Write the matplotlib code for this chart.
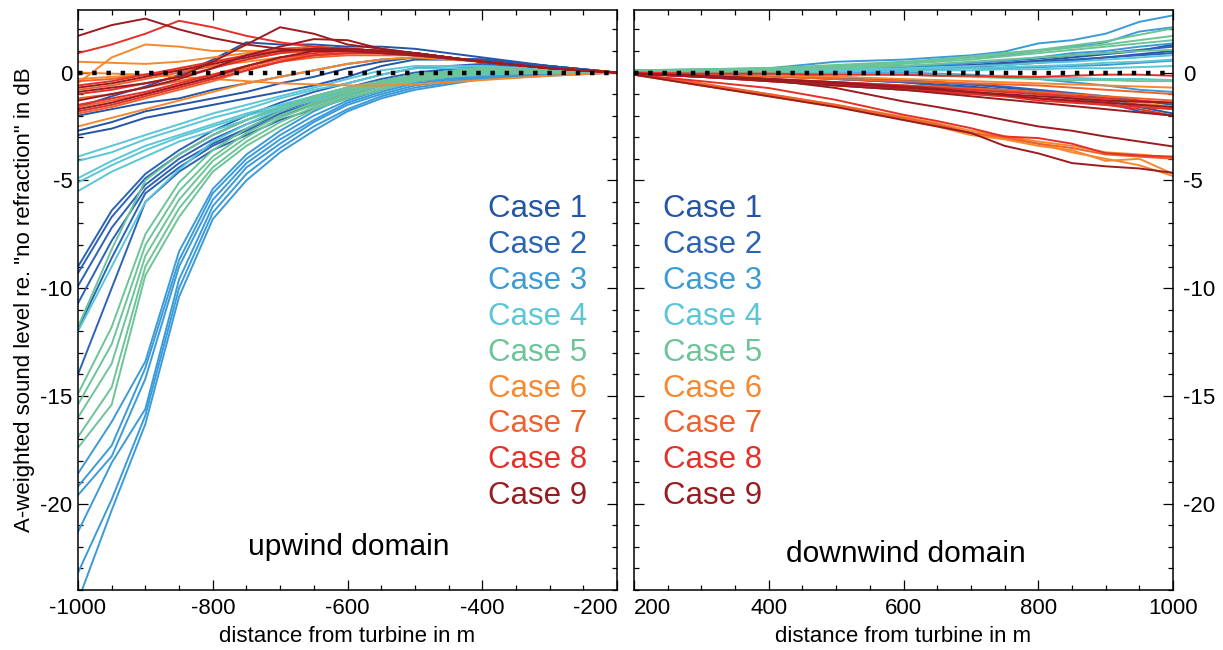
import matplotlib
matplotlib.use("Agg")
import matplotlib.pyplot as plt
from matplotlib.ticker import MultipleLocator

plt.rcParams['font.family'] = ['Liberation Sans', 'DejaVu Sans']
plt.rcParams['axes.unicode_minus'] = False

# distances (m)
x_up = [-1000, -950, -900, -850, -800, -750, -700, -650, -600, -550, -500, -400, -300, -200]
x_down = [200, 300, 400, 500, 600, 650, 700, 750, 800, 850, 900, 950, 1000]
up_ticks = [-1000, -800, -600, -400, -200]
down_ticks = [200, 400, 600, 800, 1000]

case_names = ["Case 1", "Case 2", "Case 3", "Case 4", "Case 5",
              "Case 6", "Case 7", "Case 8", "Case 9"]
case_colors = ["#2455a6", "#2b63b5", "#3b9bd9", "#5ac6d6", "#6dc497",
               "#f6892f", "#f0612c", "#e5302a", "#9b1c20"]

# upwind domain, level re. no refraction (dB)
up_case1 = [
    [-1.6, -1.1, -0.65, -0.1, 0.6, 1.4, 1.3, 1.3, 1.2, 1.2, 1.1, 0.7, 0.3, 0.0],
    [-2.9, -2.6, -2.1, -1.8, -1.5, -1.2, -0.9, -0.6, -0.2, 0.3, 0.6, 0.6, 0.3, 0.0],
    [-2.7, -2.3, -1.8, -1.5, -1.2, -0.9, -0.5, -0.2, 0.2, 0.5, 0.7, 0.6, 0.3, 0.0],
    [-2.0, -1.7, -1.4, -1.2, -0.8, -0.5, -0.2, 0.1, 0.4, 0.6, 0.7, 0.6, 0.3, 0.0],
]
up_case2 = [
    [-9.0, -6.4, -4.7, -3.6, -2.7, -2.0, -1.4, -0.9, -0.5, -0.1, 0.2, 0.4, 0.2, 0.0],
    [-9.3, -6.7, -4.9, -3.8, -2.9, -2.2, -1.6, -1.1, -0.7, -0.3, 0.0, 0.3, 0.2, 0.0],
    [-9.9, -7.2, -5.2, -4.0, -3.1, -2.4, -1.8, -1.3, -0.8, -0.4, -0.1, 0.2, 0.1, 0.0],
    [-10.7, -7.8, -5.4, -4.2, -3.3, -2.6, -1.9, -1.4, -0.9, -0.5, -0.2, 0.1, 0.05, 0.0],
    [-11.9, -8.6, -5.6, -4.4, -3.4, -2.7, -2.0, -1.5, -1.0, -0.6, -0.3, 0.0, 0.0, 0.0],
    [-14.0, -10.0, -6.0, -4.6, -3.6, -2.9, -2.2, -1.7, -1.2, -0.8, -0.4, -0.1, 0.0, 0.0],
]
up_case3 = [
    [-18.6, -16.2, -13.4, -8.3, -5.4, -3.8, -2.7, -1.8, -1.1, -0.6, -0.3, 0.0, 0.0, 0.0],
    [-19.2, -17.3, -13.7, -8.7, -5.6, -4.0, -2.9, -2.0, -1.3, -0.8, -0.4, -0.1, 0.0, 0.0],
    [-19.6, -17.8, -14.2, -9.0, -5.9, -4.2, -3.1, -2.2, -1.4, -0.9, -0.5, -0.15, -0.05, 0.0],
    [-21.3, -18.1, -15.6, -9.6, -6.2, -4.4, -3.3, -2.3, -1.5, -1.0, -0.6, -0.2, -0.1, 0.0],
    [-23.2, -19.8, -15.9, -10.0, -6.5, -4.7, -3.5, -2.5, -1.7, -1.1, -0.7, -0.25, -0.1, 0.0],
    [-24.5, -20.3, -16.3, -10.4, -6.8, -5.0, -3.7, -2.7, -1.8, -1.2, -0.8, -0.3, -0.15, 0.0],
]
up_case4 = [
    [-3.9, -3.4, -2.9, -2.4, -1.9, -1.5, -1.1, -0.7, -0.3, 0.1, 0.3, 0.3, 0.15, 0.0],
    [-4.1, -3.7, -3.1, -2.6, -2.1, -1.7, -1.2, -0.8, -0.5, -0.1, 0.2, 0.2, 0.1, 0.0],
    [-4.9, -4.1, -3.4, -2.9, -2.4, -1.9, -1.5, -1.1, -0.7, -0.4, -0.1, 0.0, 0.0, 0.0],
    [-5.1, -4.3, -3.6, -3.0, -2.5, -2.0, -1.6, -1.2, -0.8, -0.5, -0.2, -0.05, 0.0, 0.0],
    [-5.5, -4.6, -3.9, -3.2, -2.7, -2.2, -1.7, -1.3, -0.9, -0.6, -0.3, -0.1, 0.0, 0.0],
    [-12.0, -9.0, -6.0, -4.5, -3.2, -2.4, -1.7, -1.2, -0.8, -0.5, -0.2, 0.0, 0.0, 0.0],
]
up_case5 = [
    [-11.8, -8.2, -5.0, -3.8, -2.9, -2.2, -1.6, -1.1, -0.7, -0.4, -0.1, 0.2, 0.1, 0.0],
    [-14.9, -11.8, -7.5, -5.1, -3.6, -2.6, -1.8, -1.2, -0.8, -0.4, -0.1, 0.2, 0.1, 0.0],
    [-15.4, -12.6, -8.0, -5.5, -3.9, -2.8, -2.0, -1.4, -0.9, -0.5, -0.2, 0.15, 0.1, 0.0],
    [-16.0, -13.5, -8.5, -5.9, -4.1, -3.0, -2.1, -1.5, -1.0, -0.6, -0.3, 0.1, 0.05, 0.0],
    [-16.9, -14.6, -9.0, -6.3, -4.4, -3.2, -2.3, -1.6, -1.1, -0.7, -0.35, 0.05, 0.0, 0.0],
    [-17.4, -15.4, -9.4, -6.7, -4.6, -3.4, -2.5, -1.7, -1.2, -0.8, -0.4, 0.0, 0.0, 0.0],
]
up_case6 = [
    [0.5, 0.45, 0.4, 0.5, 0.7, 0.9, 1.1, 1.1, 1.0, 1.0, 0.9, 0.5, 0.2, 0.0],
    [-0.5, 0.7, 1.3, 1.2, 1.0, 1.0, 1.0, 1.0, 1.0, 0.9, 0.8, 0.5, 0.2, 0.0],
    [0.0, -0.05, -0.1, -0.2, -0.3, -0.4, -0.5, -0.55, -0.6, -0.6, -0.55, -0.35, -0.15, 0.0],
    [-2.5, -2.1, -1.7, -1.3, -0.9, -0.5, -0.2, 0.1, 0.4, 0.6, 0.7, 0.5, 0.2, 0.0],
    [-0.3, -0.2, -0.1, 0.1, 0.3, 0.5, 0.7, 0.8, 0.9, 0.9, 0.8, 0.5, 0.2, 0.0],
]
up_case7 = [
    [-1.2, -1.0, -0.7, -0.4, -0.1, 0.3, 0.6, 0.8, 0.9, 0.9, 0.8, 0.5, 0.2, 0.0],
    [-1.6, -1.3, -1.0, -0.6, -0.2, 0.2, 0.5, 0.8, 0.9, 0.9, 0.8, 0.5, 0.2, 0.0],
    [-0.8, -0.6, -0.3, 0.0, 0.3, 0.6, 0.9, 1.0, 1.0, 0.9, 0.8, 0.5, 0.2, 0.0],
    [-1.9, -1.6, -1.2, -0.8, -0.4, 0.1, 0.5, 0.7, 0.8, 0.8, 0.8, 0.5, 0.2, 0.0],
    [-0.4, -0.3, -0.1, 0.1, 0.4, 0.8, 1.1, 1.2, 1.1, 1.0, 0.9, 0.5, 0.2, 0.0],
]
up_case8 = [
    [0.9, 1.3, 1.8, 2.4, 2.1, 1.7, 1.4, 1.2, 1.1, 1.0, 0.9, 0.5, 0.2, 0.0],
    [-1.0, -0.8, -0.5, -0.2, 0.2, 0.6, 0.9, 1.1, 1.1, 1.0, 0.9, 0.5, 0.2, 0.0],
    [-1.5, -1.2, -0.9, -0.5, -0.1, 0.3, 0.7, 0.9, 1.0, 1.0, 0.9, 0.5, 0.2, 0.0],
    [-1.8, -1.5, -1.1, -0.7, -0.3, 0.1, 0.5, 0.8, 0.9, 0.9, 0.8, 0.5, 0.2, 0.0],
    [-0.6, -0.4, -0.1, 0.2, 0.5, 0.8, 1.0, 1.1, 1.1, 1.0, 0.9, 0.5, 0.2, 0.0],
]
up_case9 = [
    [1.7, 2.2, 2.5, 2.0, 1.6, 1.3, 1.1, 1.0, 1.0, 0.9, 0.8, 0.5, 0.2, 0.0],
    [-0.9, -0.7, -0.5, -0.2, 0.5, 1.3, 2.1, 1.8, 1.3, 1.1, 0.9, 0.5, 0.2, 0.0],
    [-1.3, -1.0, -0.7, -0.3, 0.2, 0.8, 1.2, 1.55, 1.5, 1.1, 0.9, 0.5, 0.2, 0.0],
    [-1.7, -1.4, -1.0, -0.6, -0.2, 0.3, 0.7, 1.0, 1.1, 1.0, 0.9, 0.5, 0.2, 0.0],
    [-0.7, -0.5, -0.2, 0.1, 0.4, 0.7, 1.0, 1.1, 1.1, 1.0, 0.9, 0.5, 0.2, 0.0],
]

# downwind domain
down_case1 = [
    [0.05, 0.05, 0.1, 0.15, 0.25, 0.3, 0.35, 0.45, 0.55, 0.7, 0.85, 1.0, 1.3],
    [0.0, 0.0, 0.05, 0.1, 0.15, 0.2, 0.25, 0.35, 0.45, 0.55, 0.7, 0.85, 1.0],
    [0.0, -0.05, -0.1, -0.2, -0.35, -0.45, -0.55, -0.7, -0.85, -1.0, -1.2, -1.5, -1.6],
    [0.0, -0.05, -0.15, -0.3, -0.45, -0.55, -0.65, -0.8, -0.95, -1.1, -1.3, -1.6, -1.9],
]
down_case2 = [
    [0.05, 0.05, 0.1, 0.2, 0.3, 0.35, 0.45, 0.55, 0.65, 0.8, 0.9, 1.05, 1.2],
    [0.0, 0.0, 0.05, 0.1, 0.15, 0.25, 0.3, 0.4, 0.5, 0.6, 0.7, 0.8, 0.9],
    [0.0, -0.05, -0.15, -0.3, -0.45, -0.6, -0.7, -0.85, -1.0, -1.2, -1.4, -1.8, -2.0],
    [0.0, -0.05, -0.1, -0.25, -0.35, -0.45, -0.55, -0.65, -0.8, -0.95, -1.1, -1.3, -1.5],
]
down_case3 = [
    [0.1, 0.15, 0.2, 0.5, 0.6, 0.7, 0.8, 0.97, 1.35, 1.5, 1.8, 2.35, 2.65],
    [0.1, 0.1, 0.15, 0.3, 0.45, 0.6, 0.7, 0.8, 1.0, 1.2, 1.4, 1.9, 2.1],
    [0.05, 0.05, 0.1, 0.2, 0.3, 0.35, 0.45, 0.55, 0.7, 0.9, 1.0, 1.2, 1.35],
    [0.0, 0.0, 0.0, 0.05, 0.1, 0.15, 0.2, 0.2, 0.25, 0.3, 0.35, 0.45, 0.55],
    [0.0, 0.0, 0.0, 0.0, 0.0, -0.05, -0.1, -0.2, -0.3, -0.45, -0.6, -0.8, -0.9],
]
down_case4 = [
    [0.05, 0.05, 0.1, 0.15, 0.2, 0.25, 0.3, 0.35, 0.45, 0.5, 0.6, 0.7, 0.8],
    [0.0, 0.05, 0.05, 0.1, 0.15, 0.2, 0.2, 0.25, 0.3, 0.35, 0.45, 0.5, 0.6],
    [0.0, 0.0, 0.0, 0.05, 0.05, 0.1, 0.1, 0.15, 0.15, 0.2, 0.2, 0.25, 0.3],
    [0.0, 0.0, -0.05, -0.05, -0.1, -0.1, -0.15, -0.15, -0.2, -0.25, -0.3, -0.3, -0.35],
]
down_case5 = [
    [0.1, 0.15, 0.2, 0.35, 0.5, 0.6, 0.75, 0.9, 1.05, 1.25, 1.45, 1.75, 2.05],
    [0.1, 0.1, 0.2, 0.3, 0.45, 0.55, 0.7, 0.85, 1.0, 1.15, 1.3, 1.5, 1.7],
    [0.05, 0.1, 0.15, 0.25, 0.4, 0.5, 0.6, 0.75, 0.9, 1.05, 1.2, 1.35, 1.5],
    [0.05, 0.1, 0.1, 0.2, 0.3, 0.4, 0.5, 0.6, 0.7, 0.8, 0.9, 1.0, 1.05],
    [0.0, 0.0, 0.0, -0.05, -0.1, -0.15, -0.2, -0.25, -0.3, -0.35, -0.35, -0.4, -0.4],
]
down_case6 = [
    [-0.1, -0.6, -1.1, -1.6, -2.2, -2.5, -2.9, -3.1, -3.4, -3.6, -4.1, -4.0, -4.7],
    [-0.1, -0.6, -1.05, -1.55, -2.15, -2.45, -2.85, -3.05, -3.3, -3.7, -4.0, -4.3, -4.8],
    [-0.1, -0.55, -1.0, -1.5, -2.05, -2.35, -2.7, -2.95, -3.2, -3.4, -3.7, -3.8, -3.95],
    [-0.05, -0.1, -0.15, -0.2, -0.3, -0.35, -0.4, -0.45, -0.5, -0.55, -0.6, -0.65, -0.7],
    [-0.05, -0.15, -0.3, -0.45, -0.6, -0.7, -0.8, -0.9, -1.0, -1.1, -1.25, -1.4, -1.6],
]
down_case7 = [
    [-0.05, -0.5, -1.0, -1.5, -2.1, -2.4, -2.8, -3.0, -3.3, -3.5, -3.8, -3.9, -4.0],
    [-0.05, -0.2, -0.4, -0.6, -0.8, -0.9, -1.0, -1.1, -1.2, -1.3, -1.4, -1.5, -1.7],
    [-0.05, -0.15, -0.3, -0.45, -0.6, -0.65, -0.75, -0.8, -0.9, -1.0, -1.1, -1.2, -1.3],
    [-0.05, -0.1, -0.2, -0.3, -0.4, -0.45, -0.5, -0.55, -0.6, -0.7, -0.8, -0.9, -1.0],
]
down_case8 = [
    [-0.1, -0.4, -0.72, -1.27, -1.96, -2.25, -2.58, -2.97, -3.04, -3.3, -3.74, -3.85, -3.9],
    [0.0, -0.05, -0.05, -0.1, -0.1, -0.15, -0.15, -0.2, -0.2, -0.15, -0.1, -0.1, -0.15],
    [-0.05, -0.2, -0.4, -0.6, -0.8, -0.9, -1.0, -1.1, -1.3, -1.4, -1.5, -1.6, -1.7],
    [-0.05, -0.15, -0.3, -0.45, -0.6, -0.7, -0.8, -0.9, -1.0, -1.1, -1.2, -1.3, -1.4],
    [-0.05, -0.2, -0.35, -0.55, -0.75, -0.85, -0.95, -1.05, -1.2, -1.35, -1.5, -1.7, -2.0],
]
down_case9 = [
    [-0.1, -0.6, -1.1, -1.6, -2.2, -2.5, -2.8, -3.4, -3.75, -4.2, -4.35, -4.45, -4.65],
    [-0.05, -0.2, -0.34, -0.72, -1.34, -1.6, -1.88, -2.2, -2.5, -2.7, -2.97, -3.2, -3.43],
    [-0.05, -0.15, -0.3, -0.5, -0.7, -0.8, -0.9, -1.0, -1.1, -1.2, -1.3, -1.35, -1.4],
    [-0.05, -0.2, -0.4, -0.6, -0.8, -0.95, -1.1, -1.25, -1.4, -1.55, -1.7, -1.85, -2.0],
    [-0.05, -0.15, -0.3, -0.45, -0.65, -0.75, -0.9, -1.05, -1.2, -1.3, -1.4, -1.5, -1.6],
]

up_cases = [up_case1, up_case2, up_case3, up_case4, up_case5,
            up_case6, up_case7, up_case8, up_case9]
down_cases = [down_case1, down_case2, down_case3, down_case4, down_case5,
              down_case6, down_case7, down_case8, down_case9]

fig = plt.figure(figsize=(12.23, 6.5), dpi=100)
ax1 = fig.add_axes([78 / 1223, 60 / 650, 539 / 1223, 580 / 650])
ax2 = fig.add_axes([634 / 1223, 60 / 650, 539 / 1223, 580 / 650])

for ax, xs, cases, ticks in [(ax1, x_up, up_cases, up_ticks),
                             (ax2, x_down, down_cases, down_ticks)]:
    for col, lines in zip(case_colors, cases):
        for y in lines:
            ax.plot(xs, y, color=col, lw=1.4, solid_joinstyle='miter')
    # reference: no refraction
    ax.axhline(0, color='black', lw=3.2, linestyle=(0, (1, 2.2)), zorder=5)
    ax.set_ylim(-24, 2.9)
    ax.set_xticks(ticks)
    ax.xaxis.set_minor_locator(MultipleLocator(50))
    ax.yaxis.set_major_locator(MultipleLocator(5))
    ax.yaxis.set_minor_locator(MultipleLocator(1))
    ax.tick_params(which='both', direction='in', top=True, bottom=True,
                   left=True, right=True, labelsize=16, width=0.9)
    ax.tick_params(which='major', length=7)
    ax.tick_params(which='minor', length=3.6)
    ax.tick_params(axis='x', pad=6)
    for s in ax.spines.values():
        s.set_linewidth(1.1)
    ax.set_xlabel("distance from turbine in m", fontsize=16)
    ax.xaxis.set_label_coords(0.5, -0.062)

ax1.set_xlim(-1000, -200)
ax2.set_xlim(200, 1000)
ax1.tick_params(axis='y', labelleft=True, labelright=False, pad=4)
ax2.tick_params(axis='y', labelleft=False, labelright=True, pad=7)

# keep the -200 / 200 labels apart at the panel join
ax1.get_xticklabels()[-1].set_horizontalalignment('right')
ax1.get_xticklabels()[-1].set_x(-200)
ax2.get_xticklabels()[0].set_horizontalalignment('left')

fig.text(25 / 1223, 1 - 300 / 650, 'A-weighted sound level re. "no refraction" in dB',
         rotation=90, ha='center', va='center', fontsize=16)

for i, (name, col) in enumerate(zip(case_names, case_colors)):
    yb = 0.643 - 0.0619 * i
    ax1.text(0.761, yb, name, color=col, fontsize=22.5, transform=ax1.transAxes,
             ha='left', va='baseline')
    ax2.text(0.054, yb, name, color=col, fontsize=22.5, transform=ax2.transAxes,
             ha='left', va='baseline')

ax1.text(0.503, 0.060, "upwind domain", fontsize=21.5, transform=ax1.transAxes,
         ha='center', va='baseline')
ax2.text(0.505, 0.049, "downwind domain", fontsize=21.5, transform=ax2.transAxes,
         ha='center', va='baseline')

fig.savefig("out.png", dpi=100)
